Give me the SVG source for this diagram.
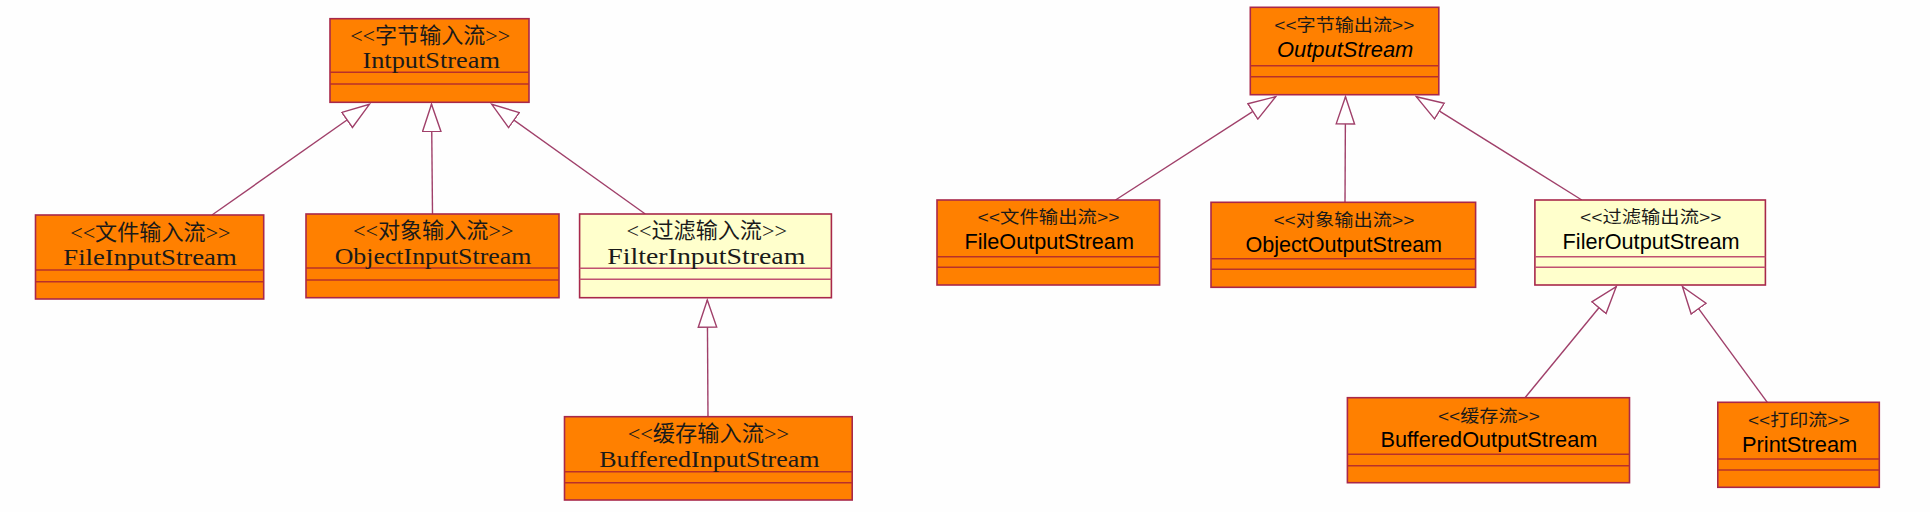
<svg xmlns="http://www.w3.org/2000/svg" width="1930" height="512" viewBox="0 0 1930 512">
<style>
.box{fill:#FF8000;stroke:#A8284A;stroke-width:1.6}
.fbox{fill:#FFFFCC;stroke:#A8284A;stroke-width:1.6}
.div{stroke:#B8302A;stroke-width:1.6}
.fdiv{stroke:#C05070;stroke-width:1.4}
.ls{font-family:"Liberation Serif","Noto Sans CJK SC",serif;font-size:22px;fill:#1a1a1a;text-anchor:middle}
.ln{font-family:"Liberation Serif",serif;font-size:23px;fill:#1a1a1a;text-anchor:middle}
.rs{font-family:"Liberation Sans","Noto Sans CJK SC",sans-serif;font-size:17px;fill:#1a1a1a;text-anchor:middle}
.rn{font-family:"Liberation Sans",Arial,sans-serif;font-size:22px;fill:#000;text-anchor:middle}
.con{stroke:#A0406A;stroke-width:1.4;fill:none;marker-end:url(#tri)}
</style>
<defs>
<marker id="tri" markerUnits="userSpaceOnUse" markerWidth="30" markerHeight="22" refX="28" refY="10" orient="auto">
<path d="M0.8,0.8 L28,10 L0.8,19.2 Z" fill="#FFFFFF" stroke="#A0406A" stroke-width="1.4"/>
</marker>
</defs>
<rect width="1930" height="512" fill="#FEFEFE"/>

<g id="connectors">
<line class="con" x1="212" y1="215" x2="369.4" y2="104.3"/>
<line class="con" x1="432.5" y1="214" x2="431.5" y2="104.3"/>
<line class="con" x1="645.3" y1="214" x2="491.8" y2="104.3"/>
<line class="con" x1="708" y1="416.7" x2="707.3" y2="300"/>
<line class="con" x1="1115.5" y1="200" x2="1275.7" y2="96.7"/>
<line class="con" x1="1345" y1="202.3" x2="1345.5" y2="96.7"/>
<line class="con" x1="1581.8" y1="200" x2="1416.3" y2="96.7"/>
<line class="con" x1="1525" y1="397.7" x2="1616.2" y2="286.7"/>
<line class="con" x1="1767.3" y1="402.3" x2="1682.5" y2="286.7"/>
</g>

<g id="InputStream">
<rect class="box" x="330" y="18.7" width="199" height="83.6"/>
<line class="div" x1="330" y1="72.3" x2="529" y2="72.3"/>
<line class="div" x1="330" y1="84" x2="529" y2="84"/>
<text class="ls" x="430.2" y="42.7" textLength="160" lengthAdjust="spacingAndGlyphs">&lt;&lt;字节输入流&gt;&gt;</text>
<text class="ln" x="431.2" y="68.2" textLength="137.6" lengthAdjust="spacingAndGlyphs">IntputStream</text>
</g>

<g id="FileInputStream">
<rect class="box" x="35.5" y="215" width="228.2" height="84"/>
<line class="div" x1="35.5" y1="270" x2="263.7" y2="270"/>
<line class="div" x1="35.5" y1="281.7" x2="263.7" y2="281.7"/>
<text class="ls" x="150.4" y="239.5" textLength="160.4" lengthAdjust="spacingAndGlyphs">&lt;&lt;文件输入流&gt;&gt;</text>
<text class="ln" x="150" y="265" textLength="173.4" lengthAdjust="spacingAndGlyphs">FileInputStream</text>
</g>

<g id="ObjectInputStream">
<rect class="box" x="306" y="214" width="253" height="83.7"/>
<line class="div" x1="306" y1="268" x2="559" y2="268"/>
<line class="div" x1="306" y1="280" x2="559" y2="280"/>
<text class="ls" x="433.2" y="238.3" textLength="160.5" lengthAdjust="spacingAndGlyphs">&lt;&lt;对象输入流&gt;&gt;</text>
<text class="ln" x="433" y="263.8" textLength="196.7" lengthAdjust="spacingAndGlyphs">ObjectInputStream</text>
</g>

<g id="FilterInputStream">
<rect class="fbox" x="579.6" y="214" width="251.8" height="83.7"/>
<line class="fdiv" x1="579.6" y1="268.3" x2="831.4" y2="268.3"/>
<line class="fdiv" x1="579.6" y1="279.3" x2="831.4" y2="279.3"/>
<text class="ls" x="706.7" y="238.3" textLength="160.4" lengthAdjust="spacingAndGlyphs">&lt;&lt;过滤输入流&gt;&gt;</text>
<text class="ln" x="706.3" y="263.8" textLength="198" lengthAdjust="spacingAndGlyphs">FilterInputStream</text>
</g>

<g id="BufferedInputStream">
<rect class="box" x="564.5" y="416.7" width="287.7" height="83.3"/>
<line class="div" x1="564.5" y1="471.7" x2="852.2" y2="471.7"/>
<line class="div" x1="564.5" y1="482.7" x2="852.2" y2="482.7"/>
<text class="ls" x="708.4" y="441" textLength="161.2" lengthAdjust="spacingAndGlyphs">&lt;&lt;缓存输入流&gt;&gt;</text>
<text class="ln" x="709.4" y="466.5" textLength="220.4" lengthAdjust="spacingAndGlyphs">BufferedInputStream</text>
</g>

<g id="OutputStream">
<rect class="box" x="1250.3" y="7.3" width="188.5" height="87.4"/>
<line class="div" x1="1250.3" y1="65.7" x2="1438.8" y2="65.7"/>
<line class="div" x1="1250.3" y1="76.7" x2="1438.8" y2="76.7"/>
<text class="rs" x="1344.3" y="30.5" textLength="140" lengthAdjust="spacingAndGlyphs">&lt;&lt;字节输出流&gt;&gt;</text>
<text class="rn" x="1345.2" y="57.3" font-style="italic" textLength="136.3" lengthAdjust="spacingAndGlyphs">OutputStream</text>
</g>

<g id="FileOutputStream">
<rect class="box" x="937" y="200" width="222.6" height="85"/>
<line class="div" x1="937" y1="256.7" x2="1159.6" y2="256.7"/>
<line class="div" x1="937" y1="267.3" x2="1159.6" y2="267.3"/>
<text class="rs" x="1048.5" y="223" textLength="142" lengthAdjust="spacingAndGlyphs">&lt;&lt;文件输出流&gt;&gt;</text>
<text class="rn" x="1049.2" y="249.3" textLength="169.4" lengthAdjust="spacingAndGlyphs">FileOutputStream</text>
</g>

<g id="ObjectOutputStream">
<rect class="box" x="1211" y="202.3" width="264.6" height="85"/>
<line class="div" x1="1211" y1="258.7" x2="1475.6" y2="258.7"/>
<line class="div" x1="1211" y1="269.3" x2="1475.6" y2="269.3"/>
<text class="rs" x="1343.9" y="226" textLength="141" lengthAdjust="spacingAndGlyphs">&lt;&lt;对象输出流&gt;&gt;</text>
<text class="rn" x="1343.8" y="252.3" textLength="196.6" lengthAdjust="spacingAndGlyphs">ObjectOutputStream</text>
</g>

<g id="FilerOutputStream">
<rect class="fbox" x="1534.9" y="200" width="230.5" height="85"/>
<line class="fdiv" x1="1534.9" y1="256.7" x2="1765.4" y2="256.7"/>
<line class="fdiv" x1="1534.9" y1="267.3" x2="1765.4" y2="267.3"/>
<text class="rs" x="1650.7" y="222.7" textLength="141.6" lengthAdjust="spacingAndGlyphs">&lt;&lt;过滤输出流&gt;&gt;</text>
<text class="rn" x="1651.1" y="249.3" textLength="177" lengthAdjust="spacingAndGlyphs">FilerOutputStream</text>
</g>

<g id="BufferedOutputStream">
<rect class="box" x="1347.4" y="397.7" width="282.1" height="85"/>
<line class="div" x1="1347.4" y1="454.3" x2="1629.5" y2="454.3"/>
<line class="div" x1="1347.4" y1="465.7" x2="1629.5" y2="465.7"/>
<text class="rs" x="1488.9" y="421.5" textLength="102" lengthAdjust="spacingAndGlyphs">&lt;&lt;缓存流&gt;&gt;</text>
<text class="rn" x="1488.9" y="446.7" textLength="217" lengthAdjust="spacingAndGlyphs">BufferedOutputStream</text>
</g>

<g id="PrintStream">
<rect class="box" x="1717.8" y="402.3" width="161.5" height="85"/>
<line class="div" x1="1717.8" y1="459" x2="1879.3" y2="459"/>
<line class="div" x1="1717.8" y1="470" x2="1879.3" y2="470"/>
<text class="rs" x="1798.8" y="425.5" textLength="101.6" lengthAdjust="spacingAndGlyphs">&lt;&lt;打印流&gt;&gt;</text>
<text class="rn" x="1799.6" y="451.7" textLength="115.3" lengthAdjust="spacingAndGlyphs">PrintStream</text>
</g>
</svg>
